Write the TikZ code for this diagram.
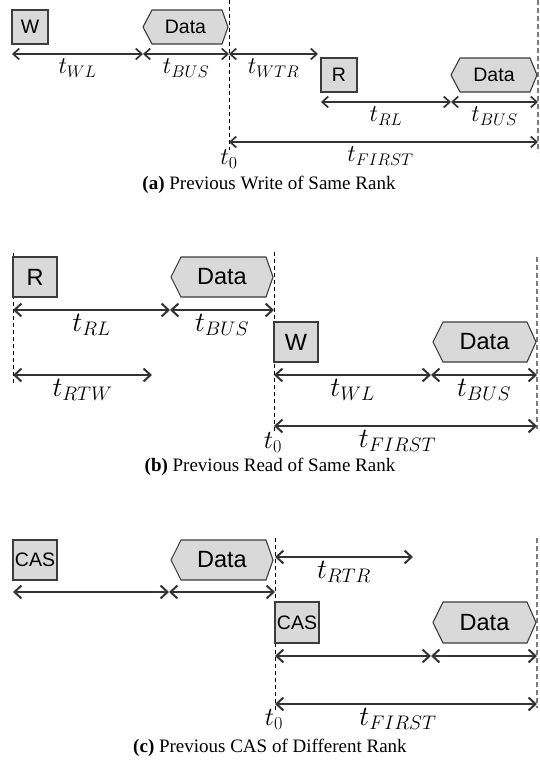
\documentclass[tikz,border=0pt]{standalone}
\usepackage{fix-cm}
\usepackage{fontspec}
\setmainfont{Liberation Serif}
\setsansfont{Liberation Sans}
\usetikzlibrary{arrows.meta}

\definecolor{boxfill}{HTML}{D9D9D9}
\definecolor{boxline}{HTML}{3C3C3C}
\definecolor{dimcol}{HTML}{333333}
\definecolor{edgegray}{HTML}{7A7A7A}

% hexagonal data burst: name, left, right, top, bottom, left inset, right inset, font size
\newcommand\hexnode[8]{%
  \draw[hexbox] (#2,{(#4+#5)/2}) -- (#2+#6,#4) -- (#3-#7,#4) -- (#3,{(#4+#5)/2})
    -- (#3-#7,#5) -- (#2+#6,#5) -- cycle;
  \node[inner sep=0pt, font=\fontsize{#8}{#8}\selectfont\sffamily] (#1)
    at ({(#2+#3)/2},{(#4+#5)/2}) {Data};}

\begin{document}
\begin{tikzpicture}[x=1pt, y=-1pt,
  cmdbox/.style={draw=boxline, fill=boxfill, line width=1.1pt, inner sep=0pt},
  hexbox/.style={draw=boxline, fill=boxfill, line width=1.1pt, line join=miter},
  dimA/.style={draw=dimcol, line width=1.7pt,
    {Straight Barb[length=6pt,width=11pt]}-{Straight Barb[length=6pt,width=11pt]}},
  dimB/.style={draw=dimcol, line width=2pt,
    {Straight Barb[length=7pt,width=13pt]}-{Straight Barb[length=7pt,width=13pt]}},
  tzero/.style={draw=black, line width=0.8pt, dash pattern=on 4pt off 3pt},
  tend/.style={draw=edgegray, line width=2pt, dash pattern=on 5pt off 3pt},
  labA/.style={below=4pt, inner sep=0pt, font=\fontsize{24}{28}\selectfont},
  labB/.style={below=3pt, inner sep=0pt, font=\fontsize{28}{32}\selectfont},
  capt/.style={anchor=base, inner sep=0pt, font=\fontsize{19}{23}\selectfont}
]
\useasboundingbox[fill=white] (0,0) rectangle (540,766);

% ---------------- (a) previous write, same rank ----------------
\draw[tzero] (229,0) -- (229,150);
\draw[tend] (538,0) -- (538,152);

\node[cmdbox, minimum width=36pt, minimum height=34pt,
      font=\fontsize{19.5}{19.5}\selectfont\sffamily] (aW) at (30,27) {W};
\hexnode{aD1}{143}{228}{10}{44}{9}{6}{19.5}
\node[cmdbox, minimum width=36pt, minimum height=34pt,
      font=\fontsize{19.5}{19.5}\selectfont\sffamily] (aR) at (339,75) {R};
\hexnode{aD2}{451}{537}{58}{92}{9}{7}{19.5}

\coordinate (a0) at (12,54);
\coordinate (a1) at (143,54);
\coordinate (a2) at (229,54);
\coordinate (a3) at (318,54);
\coordinate (a4) at (321,102);
\coordinate (a5) at (451,102);
\coordinate (a6) at (538,102);
\coordinate (a7) at (229,142);
\coordinate (a8) at (538,142);

\draw[dimA] (a0) -- (a1) node[midway, labA] (aWL) {$t_{WL}$};
\draw[dimA] (a1) -- (a2) node[midway, labA] (aBUS1) {$t_{BUS}$};
\draw[dimA] (a2) -- (a3) node[midway, labA] (aWTR) {$t_{WTR}$};
\draw[dimA] (a4) -- (a5) node[midway, labA] (aRL) {$t_{RL}$};
\draw[dimA] (a5) -- (a6) node[midway, labA] (aBUS2) {$t_{BUS}$};
\draw[dimA] (a7) -- (a8) node[midway, labA, xshift=-3pt] (aFIRST) {$t_{FIRST}$};
\node[anchor=north, inner sep=0pt, font=\fontsize{24}{28}\selectfont] (at0) at (229,150) {$t_0$};

\node[capt] (capa) at (269,189) {\textbf{(a)} Previous Write of Same Rank};

% ---------------- (b) previous read, same rank ----------------
\draw[tzero] (13,253) -- (13,383);
\draw[tzero] (274,252) -- (274,434);
\draw[tend] (537,257) -- (537,429);

\node[cmdbox, minimum width=44pt, minimum height=40pt,
      font=\fontsize{23.5}{23.5}\selectfont\sffamily] (bR) at (35,277) {R};
\hexnode{bD1}{171}{273}{257}{297}{10}{7}{23.5}
\node[cmdbox, minimum width=44pt, minimum height=40pt,
      font=\fontsize{23.5}{23.5}\selectfont\sffamily] (bW) at (296,342) {W};
\hexnode{bD2}{433}{536}{322}{362}{10}{9}{23.5}

\coordinate (b0) at (13,310);
\coordinate (b1) at (170,310);
\coordinate (b2) at (274,310);
\coordinate (b3) at (13,375);
\coordinate (b4) at (152,375);
\coordinate (b5) at (274,375);
\coordinate (b6) at (431,375);
\coordinate (b7) at (537,375);
\coordinate (b8) at (274,426);
\coordinate (b9) at (537,426);

\draw[dimB] (b0) -- (b1) node[midway, labB] (bRL) {$t_{RL}$};
\draw[dimB] (b1) -- (b2) node[midway, labB] (bBUS1) {$t_{BUS}$};
\draw[dimB] (b3) -- (b4) node[midway, labB] (bRTW) {$t_{RTW}$};
\draw[dimB] (b5) -- (b6) node[midway, labB] (bWL) {$t_{WL}$};
\draw[dimB] (b6) -- (b7) node[midway, labB] (bBUS2) {$t_{BUS}$};
\draw[dimB] (b8) -- (b9) node[midway, labB, xshift=-8pt] (bFIRST) {$t_{FIRST}$};
\node[anchor=north, inner sep=0pt, font=\fontsize{26}{30}\selectfont] (bt0) at (273,432) {$t_0$};

\node[capt] (capb) at (270,471) {\textbf{(b)} Previous Read of Same Rank};

% ---------------- (c) previous CAS, different rank ----------------
\draw[tzero] (275,538) -- (275,711);
\draw[tend] (537,538) -- (537,708);

\node[cmdbox, minimum width=44pt, minimum height=40pt,
      font=\fontsize{19.5}{19.5}\selectfont\sffamily] (cC1) at (35,560) {CAS};
\hexnode{cD1}{171}{273}{540}{580}{10}{7}{23.5}
\node[cmdbox, minimum width=44pt, minimum height=41pt,
      font=\fontsize{19.5}{19.5}\selectfont\sffamily] (cC2) at (297,622.5) {CAS};
\hexnode{cD2}{433}{536}{602}{643}{10}{9}{23.5}

\coordinate (c0) at (13,592);
\coordinate (c1) at (169,592);
\coordinate (c2) at (275,592);
\coordinate (c3) at (275,557);
\coordinate (c4) at (413,557);
\coordinate (c5) at (275,656);
\coordinate (c6) at (431,656);
\coordinate (c7) at (537,656);
\coordinate (c8) at (275,704);
\coordinate (c9) at (537,704);

\draw[dimB] (c0) -- (c1);
\draw[dimB] (c1) -- (c2);
\draw[dimB] (c3) -- (c4) node[midway, labB] (cRTR) {$t_{RTR}$};
\draw[dimB] (c5) -- (c6);
\draw[dimB] (c6) -- (c7);
\draw[dimB] (c8) -- (c9) node[midway, labB, xshift=-8pt] (cFIRST) {$t_{FIRST}$};
\node[anchor=north, inner sep=0pt, font=\fontsize{26}{30}\selectfont] (ct0) at (274,709) {$t_0$};

\node[capt] (capc) at (270,752) {\textbf{(c)} Previous CAS of Different Rank};
\end{tikzpicture}
\end{document}
